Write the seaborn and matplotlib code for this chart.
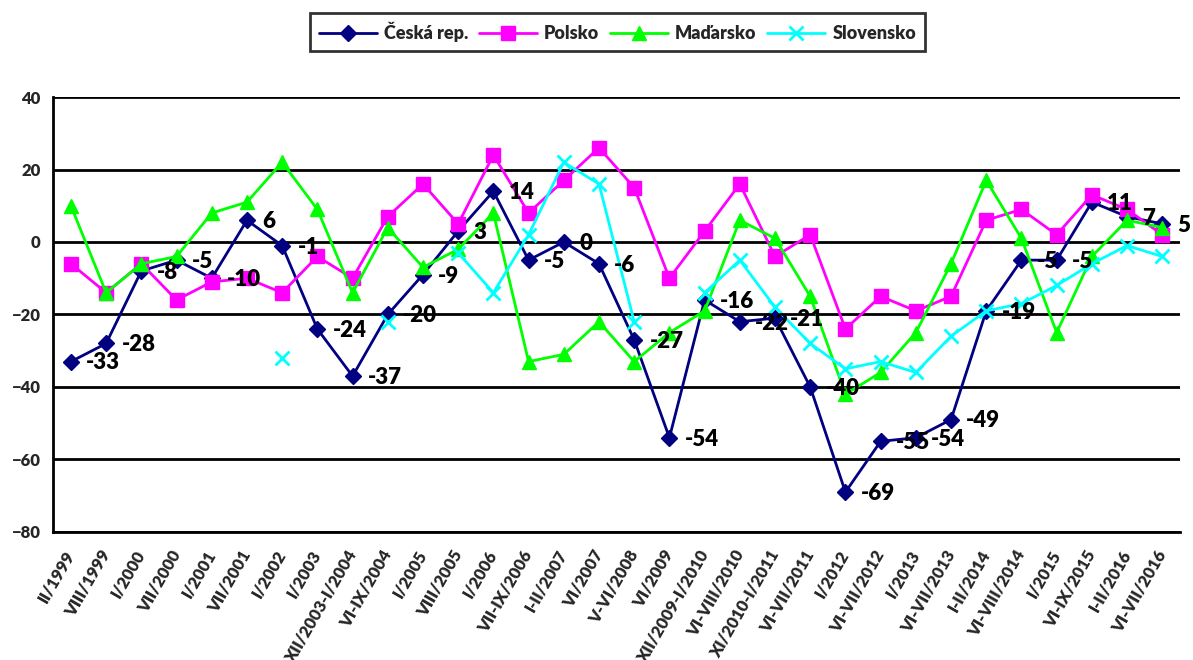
import numpy as np
import pandas as pd
import matplotlib
matplotlib.use("Agg")
import matplotlib.pyplot as plt
import seaborn as sns
from matplotlib.ticker import FixedLocator

categories = ["II/1999", "VIII/1999", "I/2000", "VII/2000", "I/2001", "VII/2001", "I/2002",
              "I/2003", "XII/2003-I/2004", "VI-IX/2004", "I/2005", "VIII/2005", "I/2006",
              "VII-IX/2006", "I-II/2007", "VI/2007", "V-VI/2008", "VI/2009",
              "XII/2009-I/2010", "VI-VIII/2010", "XI/2010-I/2011", "VI-VII/2011", "I/2012",
              "VI-VII/2012", "I/2013", "VI-VII/2013", "I-II/2014", "VI-VIII/2014", "I/2015",
              "VI-IX/2015", "I-II/2016", "VI-VII/2016"]

ceska = [-33, -28, -8, -5, -10, 6, -1, -24, -37, -20, -9, 3, 14, -5, 0, -6, -27, -54,
         -16, -22, -21, -40, -69, -55, -54, -49, -19, -5, -5, 11, 7, 5]
polsko = [-6, -14, -6, -16, -11, -10, -14, -4, -10, 7, 16, 5, 24, 8, 17, 26, 15, -10,
          3, 16, -4, 2, -24, -15, -19, -15, 6, 9, 2, 13, 9, 2]
madarsko = [10, -14, -6, -4, 8, 11, 22, 9, -14, 4, -7, -2, 8, -33, -31, -22, -33, -25,
            -19, 6, 1, -15, -42, -36, -25, -6, 17, 1, -25, -4, 6, 4]
slovensko = [np.nan, np.nan, np.nan, np.nan, np.nan, np.nan, -32, np.nan, np.nan, -22,
             np.nan, -3, -14, 2, 22, 16, -22, np.nan, -14, -5, -18, -28, -35, -33, -36,
             -26, -19, -17, -12, -6, -1, -4]

series_names = ["Česká rep.", "Polsko", "Maďarsko", "Slovensko"]
series_vals = [ceska, polsko, madarsko, slovensko]
colors = ["#000080", "#FF00FF", "#00FF00", "#00FFFF"]
markers = ["D", "s", "^", "x"]
msizes = [8, 10, 10, 10]

sns.set_theme(style="white")
plt.rcParams["font.family"] = ["Lato", "DejaVu Sans"]
plt.rcParams["font.weight"] = "heavy"
W = "heavy"

fig = plt.figure(figsize=(11.93, 6.60), dpi=100)
ax = fig.add_axes([0.0447, 0.194, 0.9443, 0.659])

idx = np.arange(len(categories))
for name, vals, c, m, ms in zip(series_names, series_vals, colors, markers, msizes):
    v = np.array(vals, dtype=float)
    seg = np.cumsum(np.isnan(v))
    df = pd.DataFrame({"x": idx, "y": v, "seg": seg}).dropna()
    sns.lineplot(data=df, x="x", y="y", units="seg", estimator=None, ax=ax,
                 color=c, linewidth=2.0, marker=m, markersize=ms,
                 markeredgecolor=c, markerfacecolor=c,
                 markeredgewidth=2.0 if m == "x" else 1.0, legend=False, sort=False)

# data labels for Česká rep.
for i, v in enumerate(ceska):
    ax.annotate(str(v), (i, v), xytext=(11, -1), textcoords="offset points",
                ha="left", va="center", fontsize=16, fontweight=W, color="black")

ax.set_xlim(-0.5, len(categories) - 0.5)
ax.set_ylim(-80, 40)
ax.set_yticks(np.arange(-80, 41, 20))
ax.yaxis.grid(True, color="black", linewidth=2.0)
ax.xaxis.grid(False)
ax.set_axisbelow(True)

ax.set_xticks(idx)
ax.set_xticklabels(categories, rotation=60, ha="right", va="center",
                   rotation_mode="anchor", fontsize=12, fontweight=W)
ax.xaxis.set_minor_locator(FixedLocator(np.arange(-0.5, len(categories), 1.0)))
ax.tick_params(axis="x", which="major", length=0, pad=14)
ax.tick_params(axis="x", which="minor", length=6, width=2, color="black", direction="out")
ax.tick_params(axis="y", which="major", length=6, width=2, color="black",
               direction="out", labelsize=12, pad=3)
for lab in ax.get_yticklabels():
    lab.set_fontweight(W)

ax.set_xlabel("")
ax.set_ylabel("")
for s in ["top", "right"]:
    ax.spines[s].set_visible(False)
for s in ["left", "bottom"]:
    ax.spines[s].set_color("black")
    ax.spines[s].set_linewidth(2.0)

handles = [plt.Line2D([], [], color=c, marker=m, markersize=ms, linewidth=2.0,
                      markeredgecolor=c, markerfacecolor=c,
                      markeredgewidth=2.0 if m == "x" else 1.0)
           for c, m, ms in zip(colors, markers, msizes)]
leg = fig.legend(handles, series_names, loc="center", bbox_to_anchor=(0.5176, 0.9515),
                 ncol=4, frameon=True, fancybox=False, edgecolor="black",
                 prop={"weight": W, "size": 13}, handlelength=3.2,
                 columnspacing=0.6, handletextpad=0.4, borderpad=0.5)
leg.get_frame().set_linewidth(2.0)

fig.savefig("out.png", dpi=100, facecolor="white")
